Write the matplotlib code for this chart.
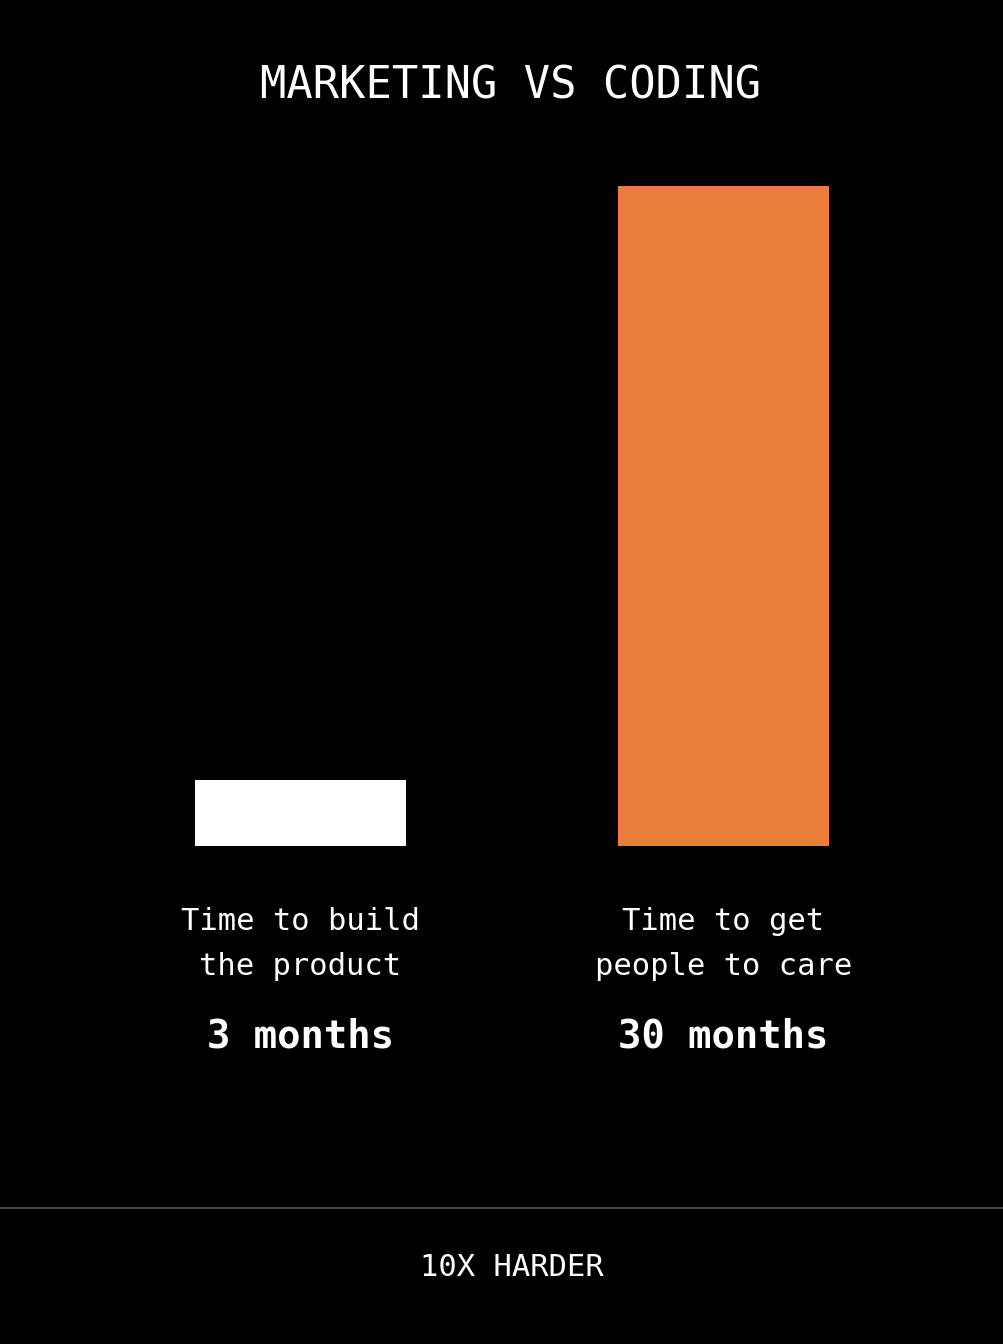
import matplotlib
matplotlib.use('Agg')
import matplotlib.pyplot as plt

# --- Data ---
labels = ['Time to build\nthe product', 'Time to get\npeople to care']
months = [3, 30]
value_labels = ['3 months', '30 months']
bar_colors = ['#ffffff', '#e97e3a']

plt.rcParams['font.family'] = ['DejaVu Sans Mono']

W, H = 1004, 1344
fig = plt.figure(figsize=(W / 100, H / 100), dpi=100, facecolor='black')

# axes placed so bar baseline sits at y=846 px and top of 30 at y=186 px
ax = fig.add_axes([89 / W, (H - 846) / H, 846 / W, 660 / H])
ax.set_facecolor('black')
ax.bar(range(len(months)), months, width=0.5, color=bar_colors)
ax.set_xlim(-0.5, 1.5)
ax.set_ylim(0, 30)
ax.axis('off')

# --- Texts ---
fig.text(511 / W, 1 - 86 / H, 'MARKETING VS CODING', color='white',
         fontsize=31.5, ha='center', va='center')

for i, (lab, val) in enumerate(zip(labels, value_labels)):
    x = ax.transData.transform((i, 0))[0] / W
    fig.text(x, 1 - 944 / H, lab, color='white', fontsize=22,
             ha='center', va='center', linespacing=1.68)
    fig.text(x, 1 - 1036 / H, val, color='white', fontsize=28,
             fontweight='bold', ha='center', va='center')

# divider line and footer
fig.add_artist(plt.Line2D([0, 1], [1 - 1208 / H, 1 - 1208 / H],
                          color='#45464e', linewidth=1.5,
                          transform=fig.transFigure))
fig.text(512 / W, 1 - 1267 / H, '10X HARDER', color='white',
         fontsize=22, ha='center', va='center')

fig.savefig('out.png', dpi=100, facecolor='black')
